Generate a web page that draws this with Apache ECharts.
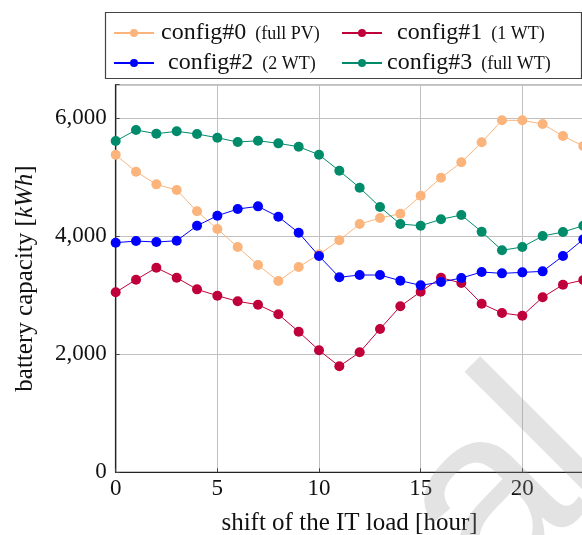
<!DOCTYPE html>
<html>
<head>
<meta charset="utf-8">
<script src="https://cdn.jsdelivr.net/npm/echarts@6/dist/echarts.min.js"></script>
<style>
html,body{margin:0;padding:0;background:#fff;}
#c{width:582px;height:535px;}
</style>
</head>
<body>
<div id="c"></div>
<script>
const shifts = [0,1,2,3,4,5,6,7,8,9,10,11,12,13,14,15,16,17,18,19,20,21,22,23];
const config0 = [5383,5095,4881,4785,4424,4124,3819,3514,3242,3480,3695,3932,4208,4310,4383,4688,4993,5254,5593,5966,5966,5903,5700,5531];
const config1 = [3051,3265,3468,3298,3101,2994,2898,2841,2678,2383,2068,1797,2034,2429,2814,3061,3298,3208,2858,2700,2654,2966,3180,3259];
const config2 = [3892,3920,3903,3925,4180,4349,4463,4508,4332,4061,3666,3306,3344,3344,3248,3169,3225,3293,3395,3372,3389,3406,3666,3949];
const config3 = [5615,5802,5739,5780,5734,5671,5598,5620,5576,5519,5383,5110,4824,4497,4208,4180,4288,4361,4078,3763,3819,4005,4073,4180];
const seriesNames = ['config#0','config#1','config#2','config#3'];
const seriesNotes = ['(full PV)','(1 WT)','(2 WT)','(full WT)'];
const colors = ['#fbb47b','#c0003a','#0000ff','#008b6b'];
const xTicks = [0,5,10,15,20];
const yTicks = [0,2000,4000,6000];
const watermarkLetters = ['a','l'];

const serif = "'Liberation Serif', 'DejaVu Serif', serif";
const allData = [config0, config1, config2, config3];

const series = allData.map((vals, i) => ({
  name: seriesNames[i],
  type: 'line',
  data: shifts.map((x, j) => [x, vals[j]]),
  symbol: 'circle',
  symbolSize: 10,
  showSymbol: true,
  color: colors[i],
  lineStyle: {width: 1, color: colors[i]},
  itemStyle: {color: colors[i]},
  animation: false,
  z: 2 + i
}));

const legendPos = [
  {left: 113, top: 21, pad: 2},
  {left: 341, top: 21, pad: 10},
  {left: 113, top: 51, pad: 9},
  {left: 341, top: 51, pad: 0}
];
const legends = seriesNames.map((n, i) => ({
  data: [n],
  left: legendPos[i].left,
  top: legendPos[i].top,
  itemWidth: 40,
  itemHeight: 10,
  padding: 0,
  selectedMode: false,
  formatter: (name) => '{a|' + name + '}{b|' + seriesNotes[i] + '}',
  textStyle: {
    padding: [0,0,0,legendPos[i].pad],
    rich: {
      a: {fontFamily: serif, fontSize: 24, color: '#111'},
      b: {fontFamily: serif, fontSize: 18, color: '#111', padding: [2,0,0,9]}
    }
  }
}));

const wmPos = [[442, 556], [532, 463]];
const wmGraphics = watermarkLetters.map((ch, k) => ({
  type: 'text',
  x: wmPos[k][0], y: wmPos[k][1],
  rotation: Math.PI / 4,
  silent: true,
  z: 200,
  style: {
    text: ch,
    font: "250px 'Liberation Sans', Arial, sans-serif",
    fill: 'rgba(150,150,150,0.27)',
    align: 'left',
    verticalAlign: 'middle'
  }
}));

const chart = echarts.init(document.getElementById('c'), null, {renderer: 'canvas'});
chart.setOption({
  backgroundColor: '#fff',
  animation: false,
  legend: legends,
  graphic: [{
    type: 'rect',
    shape: {x: 105.5, y: 12.5, width: 476, height: 66},
    style: {fill: 'none', stroke: '#444', lineWidth: 1.2},
    z: 100
  }].concat(wmGraphics),
  grid: {
    left: 115.7, top: 84.7, right: -1.3, bottom: 62.7,
    outerBoundsMode: 'none', containLabel: false,
    show: true, borderColor: '#222', borderWidth: 1.2, backgroundColor: 'transparent'
  },
  xAxis: {
    type: 'value', min: 0, max: 23, interval: 5,
    name: 'shift of the IT load [hour]',
    nameLocation: 'middle', nameGap: 39,
    nameTextStyle: {fontFamily: serif, fontSize: 25, color: '#111'},
    axisLine: {show: true, onZero: false, lineStyle: {color: '#222', width: 1.2}},
    axisTick: {show: true, inside: true, length: 4, lineStyle: {color: '#444'}},
    axisLabel: {fontFamily: serif, fontSize: 23, color: '#111', margin: 5,
      formatter: v => xTicks.includes(v) ? String(v) : ''},
    splitLine: {show: true, lineStyle: {color: '#c0c0c0', width: 1}}
  },
  yAxis: {
    type: 'value', min: 0, max: 6570, interval: 2000,
    name: 'battery capacity [{i|kWh}]',
    nameLocation: 'middle', nameGap: 78, nameRotate: 90,
    nameTextStyle: {fontFamily: serif, fontSize: 25, color: '#111',
      rich: {i: {fontFamily: serif, fontSize: 25, fontStyle: 'italic', color: '#111'}}},
    axisLine: {show: true, onZero: false, lineStyle: {color: '#222', width: 1.2}},
    axisTick: {show: true, inside: true, length: 4, lineStyle: {color: '#444'}},
    axisLabel: {fontFamily: serif, fontSize: 23, color: '#111', margin: 9,
      formatter: v => yTicks.includes(v) ? v.toLocaleString('en-US') : ''},
    splitLine: {show: true, lineStyle: {color: '#c0c0c0', width: 1}}
  },
  series: series
});
</script>
</body>
</html>
